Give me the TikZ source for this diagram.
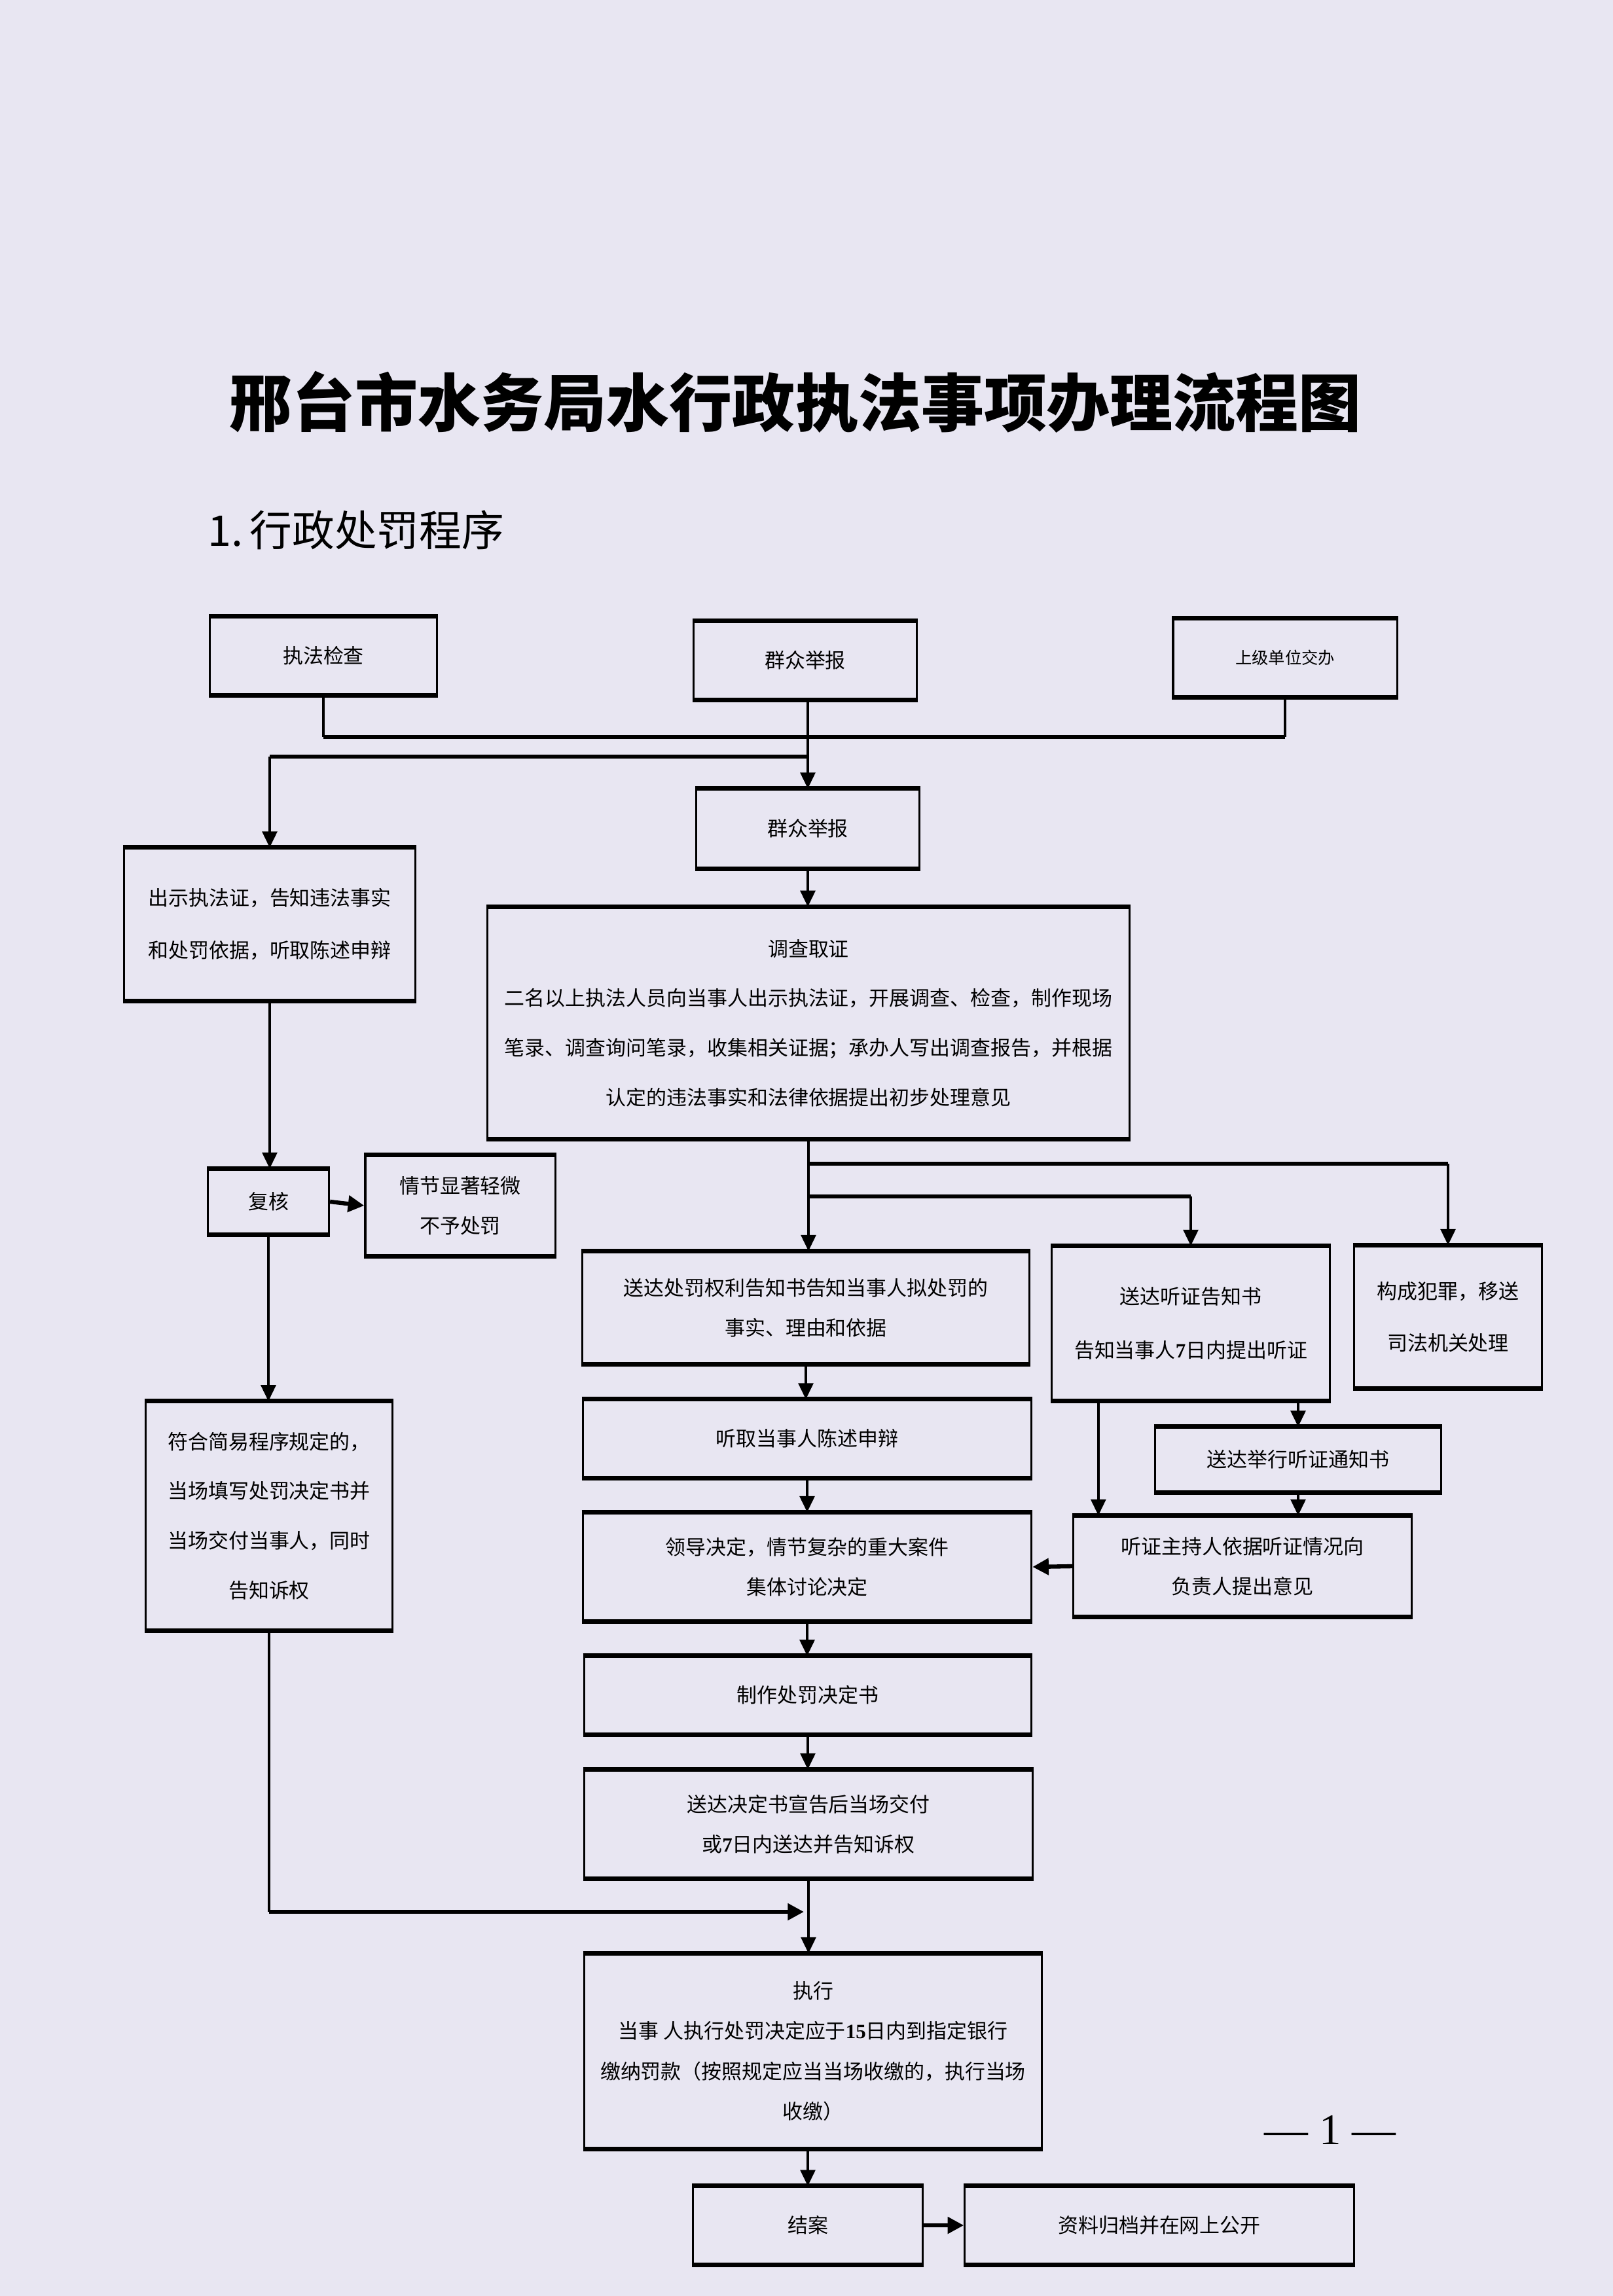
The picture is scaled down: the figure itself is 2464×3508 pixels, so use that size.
\documentclass[tikz,border=0pt]{standalone}
\usepackage{fontspec}
\setmainfont{Noto Sans CJK SC}
\newfontfamily\serif{Liberation Serif}
\usetikzlibrary{arrows.meta}
\definecolor{papel}{RGB}{232,230,242}

\begin{document}
\begin{tikzpicture}[x=0.01cm, y=-0.01cm,
  caja/.style={draw, line width=0.9pt, inner sep=0pt, align=center,
    font=\fontsize{8.8pt}{17.5pt}\selectfont},
  flecha/.style={-{Triangle[length=7pt,width=6.5pt]}, line width=1pt},
  gruesa/.style={-{Triangle[length=7pt,width=7pt]}, line width=1.8pt},
  enlace/.style={line width=1pt},
  barra/.style={line width=1.8pt}]
% Fondo
\fill[papel] (0,0) rectangle (2464,3508);
\useasboundingbox (0,0) rectangle (2464,3508);

% Título
\node[font=\fontsize{27.3pt}{30pt}\selectfont\bfseries] (titulo) at (1215,614) {邢台市水务局水行政执法事项办理流程图};
\node[anchor=west, font=\fontsize{18.4pt}{20pt}\selectfont] (subtitulo) at (305,810) {1.\hspace{3pt}行政处罚程序};

% Cajas superiores
\node[caja, minimum width=3.46cm, minimum height=1.17cm] (zfjc) at (494,1002) {执法检查};
\node[caja, minimum width=3.41cm, minimum height=1.18cm] (qzjb) at (1230,1009) {群众举报};
\node[caja, minimum width=3.42cm, minimum height=1.17cm,
  font=\fontsize{7.2pt}{9pt}\selectfont] (sjjb) at (1963,1005) {上级单位交办};
\node[caja, minimum width=3.40cm, minimum height=1.19cm] (qzjb2) at (1234,1266) {群众举报};

% Columna izquierda
\node[caja, minimum width=4.45cm, minimum height=2.31cm] (czzf) at (412,1412)
  {出示执法证，告知违法事实\\[5pt]和处罚依据，听取陈述申辩};
\node[caja, minimum width=1.85cm, minimum height=0.98cm] (fh) at (410,1836) {复核};
\node[caja, minimum width=2.90cm, minimum height=1.52cm] (qjxz) at (703,1842) {情节显著轻微\\不予处罚};
\node[caja, minimum width=3.77cm, minimum height=3.47cm] (fhjy) at (411,2316)
  {符合简易程序规定的，\\[4pt]当场填写处罚决定书并\\[4pt]当场交付当事人，同时\\[4pt]告知诉权};

% Columna central
\node[caja, minimum width=9.80cm, minimum height=3.52cm] (dcqz) at (1235,1563)
  {调查取证\\[4pt]二名以上执法人员向当事人出示执法证，开展调查、检查，制作现场\\[4pt]笔录、调查询问笔录，收集相关证据；承办人写出调查报告，并根据\\[4pt]认定的违法事实和法律依据提出初步处理意见};
\node[caja, minimum width=6.82cm, minimum height=1.70cm] (sdqz) at (1231,1998)
  {送达处罚权利告知书告知当事人拟处罚的\\事实、理由和依据};
\node[caja, minimum width=6.85cm, minimum height=1.17cm] (tqsb) at (1233,2198) {听取当事人陈述申辩};
\node[caja, minimum width=6.85cm, minimum height=1.64cm] (ldjd) at (1233,2394)
  {领导决定，情节复杂的重大案件\\集体讨论决定};
\node[caja, minimum width=6.83cm, minimum height=1.17cm] (zzjd) at (1234,2590) {制作处罚决定书};
\node[caja, minimum width=6.84cm, minimum height=1.64cm] (sdjd) at (1235,2787)
  {送达决定书宣告后当场交付\\或{\serif\bfseries 7}日内送达并告知诉权};
\node[caja, minimum width=6.99cm, minimum height=2.96cm] (zx) at (1242,3134)
  {执行\\当事 人执行处罚决定应于{\serif\bfseries 15}日内到指定银行\\缴纳罚款（按照规定应当当场收缴的，执行当场\\收缴）};
\node[caja, minimum width=3.51cm, minimum height=1.17cm] (ja) at (1234,3400) {结案};
\node[caja, minimum width=5.94cm, minimum height=1.17cm] (zlgd) at (1771,3400) {资料归档并在网上公开};

% Columna derecha
\node[caja, minimum width=4.25cm, minimum height=2.34cm] (sdtz) at (1819,2022)
  {送达听证告知书\\[6pt]告知当事人{\serif\bfseries 7}日内提出听证};
\node[caja, minimum width=2.87cm, minimum height=2.16cm] (gcfz) at (2212,2012)
  {构成犯罪，移送\\[5pt]司法机关处理};
\node[caja, minimum width=4.36cm, minimum height=0.97cm] (sdjx) at (1983,2230) {送达举行听证通知书};
\node[caja, minimum width=5.16cm, minimum height=1.52cm] (tzzc) at (1898,2393)
  {听证主持人依据听证情况向\\负责人提出意见};

% Bordes gruesos arriba y abajo
\foreach \n in {zfjc,qzjb,sjjb,qzjb2,czzf,fh,qjxz,fhjy,dcqz,sdqz,tqsb,ldjd,zzjd,sdjd,zx,ja,zlgd,sdtz,gcfz,sdjx,tzzc}
  \draw[line width=2pt] (\n.north west) -- (\n.north east) (\n.south west) -- (\n.south east);

% Puntos de unión
\coordinate (cruce1) at (1234,1126);
\coordinate (cruce2) at (1234,1156);
\coordinate (rama1) at (1233,1778);
\coordinate (rama2) at (1233,1828);
\coordinate (union) at (1228,2921);
\coordinate (tz) at ([xshift=0.73cm]sdtz.south west);

% Conectores superiores
\draw[enlace] (zfjc.south) -- (zfjc.south |- cruce1);
\draw[enlace] (sjjb.south) -- (sjjb.south |- cruce1);
\draw[barra] (zfjc.south |- cruce1) -- (sjjb.south |- cruce1);
\draw[flecha] (qzjb.south -| qzjb2.north) -- (qzjb2.north);
\draw[barra] (cruce2) -- (cruce2 -| czzf.north);
\draw[flecha] (cruce2 -| czzf.north) -- (czzf.north);
\draw[flecha] (qzjb2.south) -- (qzjb2.south |- dcqz.north);

% Conectores izquierda
\draw[flecha] (czzf.south) -- (czzf.south |- fh.north);
\draw[gruesa] (fh.east) -- (qjxz.west);
\draw[flecha] (fh.south) -- (fh.south |- fhjy.north);
\draw[enlace] (fhjy.south) -- (fhjy.south |- union);
\draw[gruesa] (fhjy.south |- union) -- (union);

% Conectores centrales
\draw[flecha] (dcqz.south) -- (dcqz.south |- sdqz.north);
\draw[barra] (rama1) -- (rama1 -| gcfz.north);
\draw[flecha] (rama1 -| gcfz.north) -- (gcfz.north);
\draw[barra] (rama2) -- (rama2 -| sdtz.north);
\draw[flecha] (rama2 -| sdtz.north) -- (sdtz.north);
\draw[flecha] (sdqz.south) -- (sdqz.south |- tqsb.north);
\draw[flecha] (tqsb.south) -- (tqsb.south |- ldjd.north);
\draw[flecha] (ldjd.south) -- (ldjd.south |- zzjd.north);
\draw[flecha] (zzjd.south) -- (zzjd.south |- sdjd.north);
\draw[flecha] (sdjd.south) -- (sdjd.south |- zx.north);
\draw[flecha] (ja.north |- zx.south) -- (ja.north);
\draw[gruesa] (ja.east) -- (zlgd.west);

% Conectores derecha
\draw[flecha] (sdtz.south -| sdjx.north) -- (sdjx.north);
\draw[flecha] (sdjx.south) -- (sdjx.south |- tzzc.north);
\draw[flecha] (tz) -- (tz |- tzzc.north);
\draw[gruesa] (tzzc.west) -- (ldjd.east);

% Número de página
\node[font=\fontsize{19pt}{21pt}\selectfont] (pagina) at (2032,3254) {\serif — 1 —};
\end{tikzpicture}
\end{document}
